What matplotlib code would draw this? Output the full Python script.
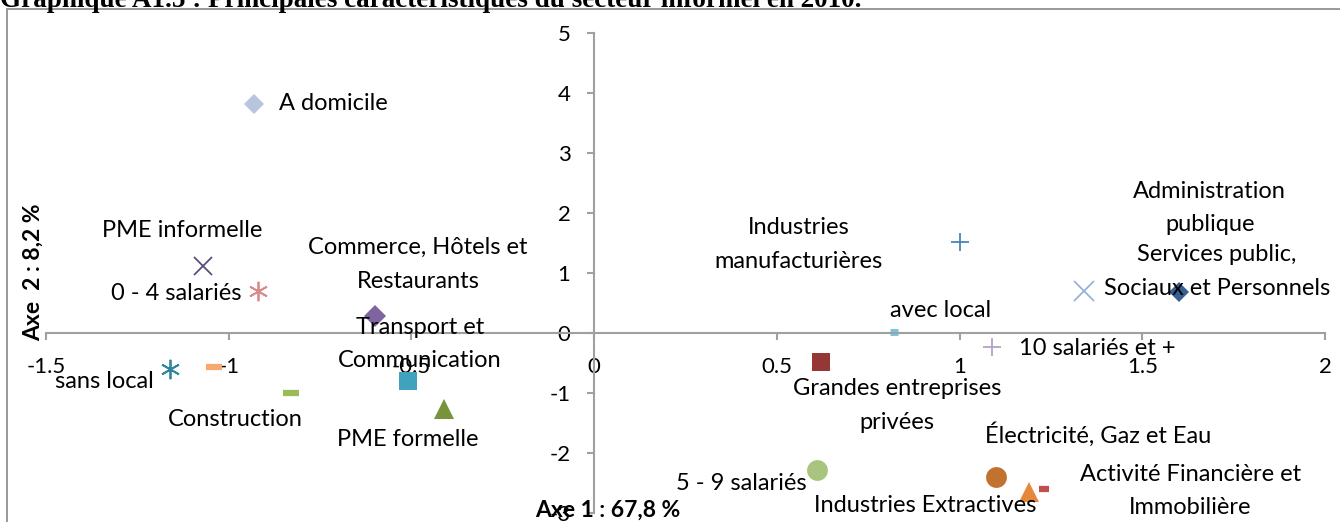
import matplotlib.pyplot as plt
import matplotlib.patches as patches

plt.rcParams['font.family'] = ['Lato', 'DejaVu Sans']

# Coordonnées factorielles (axe 1, axe 2)
NAMES = ['A domicile', 'PME informelle', '0 - 4 salariés', 'sans local', '',
         'Construction', 'Commerce, Hôtels et\nRestaurants',
         'Transport et\nCommunication', 'PME formelle',
         'Industries\nmanufacturières', 'avec local',
         'Administration\npublique', 'Services public,\nSociaux et Personnels',
         '10 salariés et +', 'Grandes entreprises\nprivées',
         '5 - 9 salariés', 'Électricité, Gaz et Eau',
         'Industries Extractives', 'Activité Financière et\nImmobilière']
AXE1 = [-0.93, -1.07, -0.92, -1.16, -1.04, -0.83, -0.60, -0.51, -0.41,
        1.00, 0.82, 1.34, 1.60, 1.09, 0.62, 0.61, 1.10, 1.19, 1.23]
AXE2 = [3.82, 1.12, 0.70, -0.60, -0.57, -1.00, 0.28, -0.80, -1.27,
        1.52, 0.02, 0.70, 0.68, -0.23, -0.48, -2.28, -2.40, -2.65, -2.60]

X_TICKS = [-1.5, -1, -0.5, 0, 0.5, 1, 1.5, 2]
Y_TICKS = [-3, -2, -1, 0, 1, 2, 3, 4, 5]

# marker style for each point (marker, size, colour, edge width)
STYLES = [('D', 10, '#B7C5DF', 0), ('x', 13, '#604A7B', 1.3),
          ((6, 2, 0), 14, '#D98A8A', 1.3), ((6, 2, 0), 14, '#31859C', 1.3),
          ('_', 11, '#F9A870', 4.5), ('_', 11, '#9BBB59', 4.5),
          ('D', 11, '#8064A2', 0), ('s', 13, '#40A2BD', 0),
          ('^', 14, '#77933C', 0), ('+', 13, '#4F81BD', 1.3),
          ('_', 6, '#78C5DF', 5), ('x', 14, '#95B3D7', 1.3),
          ('D', 10, '#366092', 0), ('+', 13, '#B3A2C7', 1.3),
          ('s', 13, '#953735', 0), ('o', 15, '#A9C47F', 0),
          ('o', 15, '#C0722E', 0), ('^', 15, '#E6883C', 0),
          ('_', 7, '#C0504D', 4.5)]

# label offsets in pixels from the point, and alignment
LABEL_POS = [(25, 0, 'left'), (-21, 35, 'center'), (-16, -2, 'right'),
             (-16, -12, 'right'), (0, 0, 'center'), (-56, -27, 'center'),
             (43, 52, 'center'), (12, 37, 'center'), (-37, -30, 'center'),
             (-161, -3, 'center'), (47, 21, 'center'), (126, 83, 'center'),
             (38, 21, 'center'), (27, -2, 'left'), (76, -44, 'center'),
             (-10, -14, 'right'), (102, 42, 'center'), (-104, -14, 'center'),
             (147, -2, 'center')]

W, H = 1340, 522
fig = plt.figure(figsize=(W / 100, H / 100), dpi=100)
ax = fig.add_axes([46 / W, 9 / H, (1325 - 46) / W, (513 - 33) / H])

for i in range(len(NAMES)):
    m, s, c, lw = STYLES[i]
    ax.plot(AXE1[i], AXE2[i], marker=m, ms=s, color=c,
            markeredgewidth=lw, linestyle='none')
    if NAMES[i]:
        dx, dy, ha = LABEL_POS[i]
        ax.annotate(NAMES[i], (AXE1[i], AXE2[i]), xytext=(dx, dy),
                    textcoords='offset pixels', ha=ha, va='center',
                    fontsize=17, linespacing=1.75, color='black')

ax.set_xlim(-1.5, 2)
ax.set_ylim(-3, 5)
ax.set_xticks(X_TICKS)
ax.set_yticks(Y_TICKS)
ax.set_xticklabels([('%g' % v) for v in X_TICKS])
ax.set_yticklabels([('%g' % v) for v in Y_TICKS])

# axes crossing at the origin, Excel style
ax.spines['left'].set_position(('data', 0))
ax.spines['bottom'].set_position(('data', 0))
ax.spines['top'].set_visible(False)
ax.spines['right'].set_visible(False)
for sp in ['left', 'bottom']:
    ax.spines[sp].set_color('#A0A0A0')
    ax.spines[sp].set_linewidth(1.5)
ax.tick_params(axis='both', direction='out', length=5, width=1.5,
               color='#A0A0A0', labelsize=16, pad=12)
ax.patch.set_visible(False)

fig.text(608 / W, 1 - 510 / H, 'Axe 1 : 67,8 %', ha='center', va='center',
         fontsize=16.5, fontweight='bold')
fig.text(33 / W, 1 - 272 / H, 'Axe  2 : 8,2 %', ha='center', va='center',
         rotation=90, fontsize=16.5, fontweight='bold')

fig.text(0.0, 1 - 7 / H,
         'Graphique A1.5 : Principales caractéristiques du secteur informel en 2010.',
         ha='left', va='baseline', fontsize=19.5, fontweight='bold',
         family='Liberation Serif')

border = patches.Rectangle((7 / W, -0.05), 1.1, 1 - 9 / H + 0.05,
                           transform=fig.transFigure, fill=False,
                           edgecolor='#888888', linewidth=1.2)
fig.patches.append(border)

fig.savefig('out.png', dpi=100)
